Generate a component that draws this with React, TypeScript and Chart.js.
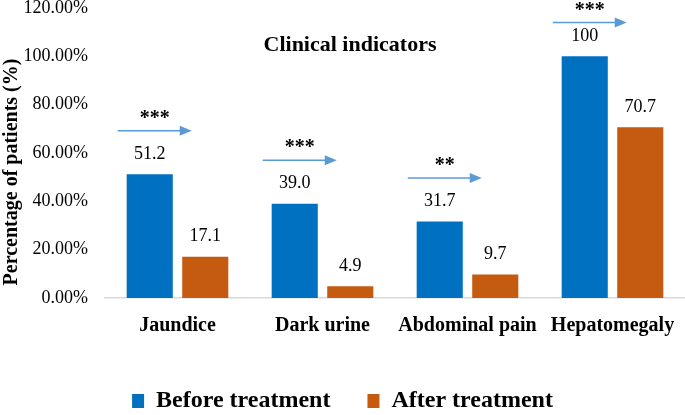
import React, { useEffect, useRef } from "react";
import { Chart, registerables } from "chart.js";

Chart.register(...registerables);

const categories = ["Jaundice", "Dark urine", "Abdominal pain", "Hepatomegaly"];
const beforeValues = [51.2, 39.0, 31.7, 100];
const afterValues = [17.1, 4.9, 9.7, 70.7];
const beforeLabels = ["51.2", "39.0", "31.7", "100"];
const afterLabels = ["17.1", "4.9", "9.7", "70.7"];
const significance = ["***", "***", "**", "***"];
const seriesNames = ["Before treatment", "After treatment"];

const BLUE = "#0070C0";
const ORANGE = "#C55A11";
const ARROW = "#5B9BD5";
const FONT = "Liberation Serif";

const overlayPlugin = {
  id: "overlay",
  afterDatasetsDraw(chart: any) {
    const ctx = chart.ctx;
    const yScale = chart.scales.y;
    ctx.save();
    const labelSets = [beforeLabels, afterLabels];
    chart.data.datasets.forEach((_ds: any, di: number) => {
      const meta = chart.getDatasetMeta(di);
      meta.data.forEach((bar: any, i: number) => {
        ctx.font = `18px "${FONT}"`;
        ctx.fillStyle = "#000";
        ctx.textAlign = "center";
        ctx.textBaseline = "middle";
        ctx.fillText(labelSets[di][i], bar.x, bar.y - 20);
      });
    });
    const m0 = chart.getDatasetMeta(0);
    m0.data.forEach((bar: any, i: number) => {
      const v = Math.min(beforeValues[i] + 18, 114);
      const y = yScale.getPixelForValue(v);
      const x1 = bar.x - 32;
      const x2 = bar.x + 42;
      ctx.strokeStyle = ARROW;
      ctx.fillStyle = ARROW;
      ctx.lineWidth = 1.5;
      ctx.beginPath();
      ctx.moveTo(x1, y);
      ctx.lineTo(x2 - 10, y);
      ctx.stroke();
      ctx.beginPath();
      ctx.moveTo(x2, y);
      ctx.lineTo(x2 - 12, y - 5);
      ctx.lineTo(x2 - 12, y + 5);
      ctx.closePath();
      ctx.fill();
      ctx.fillStyle = "#000";
      ctx.font = `bold 20px "${FONT}"`;
      ctx.textAlign = "center";
      ctx.textBaseline = "middle";
      ctx.fillText(significance[i], (x1 + x2) / 2, y - 12);
    });
    ctx.font = `bold 22px "${FONT}"`;
    ctx.fillStyle = "#000";
    ctx.textAlign = "center";
    ctx.textBaseline = "middle";
    ctx.fillText("Clinical indicators", 350, 45);
    ctx.translate(12, 172);
    ctx.rotate(-Math.PI / 2);
    ctx.font = `bold 20px "${FONT}"`;
    ctx.fillText("Percentage of patients (%)", 0, 0);
    ctx.restore();
  },
};

export default function App() {
  const ref = useRef<HTMLCanvasElement>(null);
  useEffect(() => {
    if (!ref.current) return;
    const chart = new Chart(ref.current, {
      type: "bar",
      data: {
        labels: categories,
        datasets: [
          {
            label: seriesNames[0],
            data: beforeValues,
            backgroundColor: BLUE,
            categoryPercentage: 0.766,
            barPercentage: 0.83,
          },
          {
            label: seriesNames[1],
            data: afterValues,
            backgroundColor: ORANGE,
            categoryPercentage: 0.766,
            barPercentage: 0.83,
          },
        ],
      },
      options: {
        responsive: false,
        animation: false,
        devicePixelRatio: 1,
        layout: { padding: { left: 0, right: 0, top: 8, bottom: -8 } },
        scales: {
          x: {
            grid: { display: false, drawTicks: false },
            border: { display: true, color: "#D9D9D9", width: 1.5 },
            ticks: {
              color: "#000",
              padding: 16,
              font: { family: `"${FONT}"`, size: 20, weight: "bold" },
              maxRotation: 0,
            },
            afterFit: (axis: any) => {
              axis.height = 54;
              axis.paddingRight = 0;
              axis.paddingLeft = 0;
            },
          },
          y: {
            min: 0,
            max: 120,
            grid: { display: false, drawTicks: false },
            border: { display: false },
            ticks: {
              stepSize: 20,
              color: "#000",
              padding: 17,
              font: { family: `"${FONT}"`, size: 18 },
              callback: (v: any) => Number(v).toFixed(2) + "%",
            },
            afterFit: (axis: any) => {
              axis.width = 105;
              axis.paddingTop = 0;
              axis.paddingBottom = 0;
            },
          },
        },
        plugins: {
          legend: {
            position: "bottom",
            labels: {
              color: "#000",
              boxWidth: 12,
              boxHeight: 14,
              padding: 37,
              font: { family: `"${FONT}"`, size: 24, weight: "bold" },
            },
          },
          tooltip: { enabled: false },
          title: { display: false },
        },
      },
      plugins: [overlayPlugin],
    });
    let alive = true;
    const fontsApi: any = (document as any).fonts;
    if (fontsApi && fontsApi.load) {
      Promise.all([
        fontsApi.load(`18px "${FONT}"`),
        fontsApi.load(`bold 18px "${FONT}"`),
      ])
        .then(() => {
          if (alive) chart.update();
        })
        .catch(() => {});
    }
    return () => {
      alive = false;
      chart.destroy();
    };
  }, []);
  return (
    <div style={{ position: "fixed", left: 0, top: 0, width: 685, height: 415, background: "#fff" }}>
      <span style={{ position: "absolute", visibility: "hidden", fontFamily: `"${FONT}"` }}>
        a<b>b</b>
      </span>
      <canvas ref={ref} width={685} height={415} style={{ position: "absolute", left: 0, top: 0 }} />
    </div>
  );
}
